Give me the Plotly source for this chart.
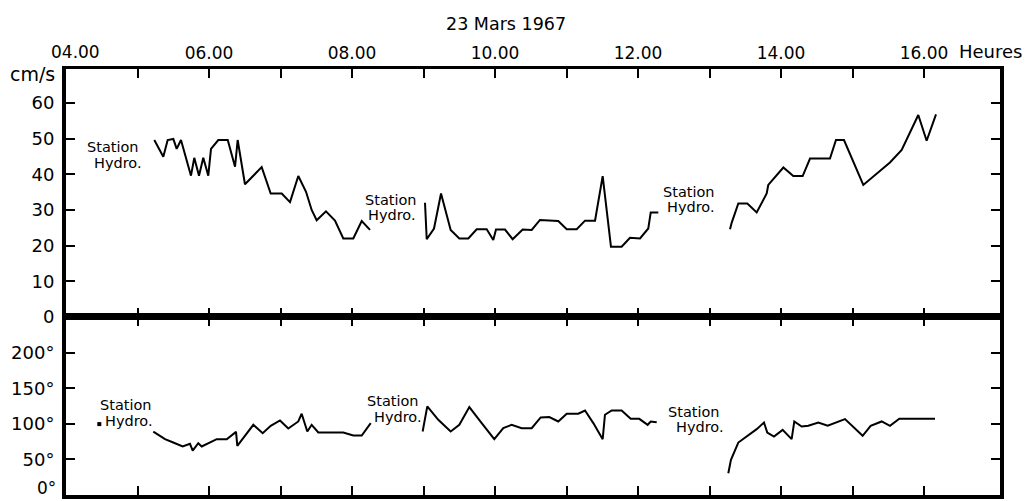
import plotly.graph_objects as go

# ---- data (time in decimal hours, 23 Mars 1967) ----
speed_t1 = [5.235, 5.361, 5.422, 5.501, 5.548, 5.608, 5.748, 5.794, 5.860, 5.920, 5.990, 6.028,
            6.130, 6.262, 6.364, 6.401, 6.503, 6.737, 6.863, 7.017, 7.133, 7.249, 7.357, 7.436,
            7.506, 7.636, 7.762, 7.878, 8.018, 8.136, 8.252]
speed_v1 = [49.6, 44.9, 49.6, 49.9, 47.1, 49.6, 39.6, 44.6, 39.6, 44.6, 39.6, 47.1,
            49.6, 49.6, 42.1, 49.6, 37.2, 42.0, 34.6, 34.6, 32.2, 39.5, 35.1, 30.0,
            27.1, 29.6, 27.0, 22.0, 22.0, 26.9, 24.4]
speed_t2 = [9.021, 9.045, 9.147, 9.245, 9.380, 9.501, 9.627, 9.744, 9.884, 9.976, 10.014, 10.14,
            10.247, 10.387, 10.513, 10.629, 10.885, 11.003, 11.143, 11.259, 11.399, 11.506,
            11.622, 11.771, 11.888, 12.028, 12.144, 12.178, 12.284]
speed_v2 = [32.0, 21.8, 24.8, 34.6, 24.4, 22.0, 22.0, 24.6, 24.6, 21.6, 24.5, 24.5,
            21.8, 24.5, 24.4, 27.2, 26.9, 24.6, 24.6, 27.0, 27.0, 39.5,
            19.7, 19.7, 22.2, 22.0, 24.8, 29.3, 29.3]
speed_t3 = [13.287, 13.31, 13.403, 13.529, 13.66, 13.80, 13.822, 14.033, 14.172, 14.303, 14.406,
            14.685, 14.769, 14.881, 15.151, 15.524, 15.688, 15.92, 16.037, 16.168]
speed_v3 = [24.6, 26.4, 31.8, 31.8, 29.3, 34.6, 37.0, 41.9, 39.5, 39.5, 44.4,
            44.4, 49.6, 49.6, 37.0, 43.3, 46.8, 56.6, 49.4, 56.8]

dir_t0 = [4.466]
dir_v0 = [99.6]
dir_t1 = [5.221, 5.385, 5.50, 5.632, 5.734, 5.772, 5.85, 5.898, 6.108, 6.248, 6.378, 6.396,
          6.62, 6.751, 6.863, 6.993, 7.109, 7.249, 7.296, 7.375, 7.436, 7.529, 7.878,
          8.018, 8.136, 8.262]
dir_v1 = [89.0, 78.4, 73.7, 68.1, 71.8, 62.4, 72.8, 68.1, 78.4, 78.4, 88.7, 69.0,
          98.6, 86.9, 97.2, 104.7, 93.4, 103.3, 114.1, 89.2, 98.6, 87.8, 87.8,
          83.5, 83.5, 101.0]
dir_t2 = [8.988, 9.053, 9.207, 9.380, 9.501, 9.641, 9.814, 9.990, 10.116, 10.233, 10.373,
          10.513, 10.639, 10.759, 10.885, 11.003, 11.165, 11.259, 11.375, 11.506, 11.538,
          11.632, 11.771, 11.898, 12.018, 12.135, 12.178, 12.262]
dir_v2 = [89.2, 124.4, 105.6, 89.2, 98.6, 123.5, 101.0, 78.4, 93.9, 98.6, 93.9,
          93.9, 108.9, 109.4, 103.3, 114.1, 114.1, 118.7, 101.0, 78.4, 112.7,
          118.7, 118.7, 107.0, 107.0, 98.6, 103.3, 102.3]
dir_t3 = [13.263, 13.30, 13.403, 13.52, 13.66, 13.762, 13.808, 13.902, 14.023, 14.149, 14.186,
          14.289, 14.382, 14.522, 14.653, 14.895, 15.142, 15.254, 15.408, 15.524, 15.655, 16.154]
dir_v3 = [30.5, 49.3, 73.7, 82.1, 92.5, 101.8, 87.8, 82.1, 91.5, 78.4, 103.3,
          96.2, 97.2, 101.8, 97.2, 106.6, 83.1, 97.2, 103.3, 97.2, 107.0, 107.0]

hour_ticks = list(range(4, 17))
hour_labels = ["", "", "06.00", "", "08.00", "", "10.00", "", "12.00", "", "14.00", "", "16.00"]
speed_ticks = [0, 10, 20, 30, 40, 50, 60]
speed_labels = ["0", "10", "20", "30", "40", "50", "60"]
dir_ticks = [0, 50, 100, 150, 200]
dir_labels = ["", "50°", "100°", "150°", "200°"]   # "0°" drawn as an annotation to stay inside

FONT = "DejaVu Sans"
line = dict(color="black", width=2)

fig = go.Figure()
for t, v in [(speed_t1, speed_v1), (speed_t2, speed_v2), (speed_t3, speed_v3)]:
    fig.add_trace(go.Scatter(x=t, y=v, mode="lines", line=line, xaxis="x2", yaxis="y2",
                             showlegend=False, hoverinfo="skip"))
for t, v in [(dir_t1, dir_v1), (dir_t2, dir_v2), (dir_t3, dir_v3)]:
    fig.add_trace(go.Scatter(x=t, y=v, mode="lines", line=line, xaxis="x", yaxis="y",
                             showlegend=False, hoverinfo="skip"))
fig.add_trace(go.Scatter(x=dir_t0, y=dir_v0, mode="markers", xaxis="x", yaxis="y",
                         marker=dict(color="black", size=4, symbol="square"),
                         showlegend=False, hoverinfo="skip"))

W, H = 1027, 501
ML, MR, MT, MB = 66, 27, 69, 6
PW, PH = W - ML - MR, H - MT - MB


def px(x):
    return (x - ML) / PW


def py(y):
    return (H - MB - y) / PH


xrange = [4, 17.063]
split = 178 / 426

common_x = dict(range=xrange, tickvals=hour_ticks, ticks="inside", ticklen=9, tickwidth=2,
                tickcolor="black", showline=True, linecolor="black", mirror="ticks",
                showgrid=False, zeroline=False, fixedrange=True, automargin=False)
common_y = dict(ticks="inside", ticklen=9, tickwidth=2, tickcolor="black", showline=True,
                linecolor="black", linewidth=4, mirror="ticks", showgrid=False, zeroline=False,
                tickfont=dict(family=FONT, size=18, color="black"), ticklabelstandoff=4,
                ticklabeloverflow="allow", automargin=False)

label_font = dict(family=FONT, size=14.5, color="black")
# (text, center x px, center y px)
labels = [
    ("Station", 113, 147), ("Hydro.", 118, 163),
    ("Station", 391, 200), ("Hydro.", 392, 215),
    ("Station", 689, 192), ("Hydro.", 691, 207),
    ("Station", 126, 405), ("Hydro.", 129, 421),
    ("Station", 393, 401), ("Hydro.", 398, 417),
    ("Station", 694, 412), ("Hydro.", 700, 427),
]
annotations = [dict(x=px(x), y=py(y), xref="paper", yref="paper", text=t, showarrow=False,
                    xanchor="center", yanchor="middle", font=label_font)
               for t, x, y in labels]
annotations += [
    dict(x=px(506), y=py(24), xref="paper", yref="paper", text="23 Mars 1967", showarrow=False,
         xanchor="center", yanchor="middle", font=dict(family=FONT, size=17.5, color="black")),
    dict(x=px(57), y=py(74), xref="paper", yref="paper", text="cm/s", showarrow=False,
         xanchor="right", yanchor="middle", font=dict(family=FONT, size=19, color="black")),
    dict(x=px(957), y=py(52), xref="paper", yref="paper", text="Heures", showarrow=False,
         xanchor="left", yanchor="middle", font=dict(family=FONT, size=18, color="black")),
    dict(x=px(75), y=py(52), xref="paper", yref="paper", text="04.00", showarrow=False,
         xanchor="center", yanchor="middle", font=dict(family=FONT, size=17, color="black")),
    dict(x=px(58), y=py(500), xref="paper", yref="paper", text="0°", showarrow=False,
         xanchor="right", yanchor="bottom", font=dict(family=FONT, size=17, color="black")),
]

fig.update_layout(
    width=W, height=H,
    margin=dict(l=ML, r=MR, t=MT, b=MB, autoexpand=False),
    paper_bgcolor="white", plot_bgcolor="white",
    xaxis=dict(common_x, anchor="y", domain=[0, 1], showticklabels=False, linewidth=4),
    xaxis2=dict(common_x, anchor="y2", domain=[0, 1], side="top", matches="x",
                ticktext=hour_labels, linewidth=3,
                tickfont=dict(family=FONT, size=17, color="black")),
    yaxis=dict(common_y, domain=[0, split], range=[0, 250], tickvals=dir_ticks, ticktext=dir_labels),
    yaxis2=dict(common_y, domain=[split, 1], range=[0, 69.5], tickvals=speed_ticks,
                ticktext=speed_labels),
    annotations=annotations,
)

fig.write_html("out.html")
